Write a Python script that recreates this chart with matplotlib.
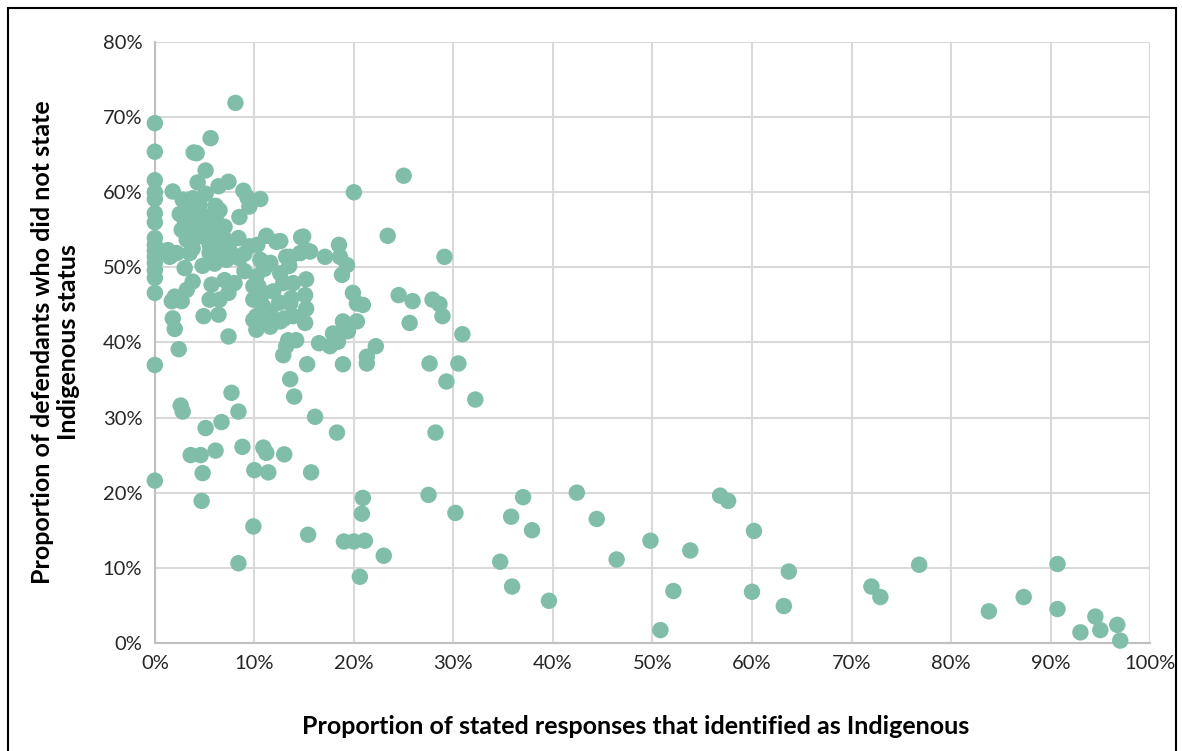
import matplotlib.pyplot as plt
from matplotlib.patches import Rectangle
from matplotlib.ticker import PercentFormatter

plt.rcParams['font.family'] = ['Lato', 'DejaVu Sans']

# proportion identified as Indigenous (%), proportion not stated (%)
x_pct = [
    0, 0, 0, 0, 0, 0, 0, 0, 0, 0, 0, 0, 0, 0, 0, 0, 0,
    8.1, 5.6, 4.2, 3.9, 5.1, 4.3, 6.4, 7.4, 1.8, 5.1, 8.9, 9.3, 10.6, 9.5, 2.8, 3.8, 6.1,
    2.5, 3.5, 4.5, 5.5, 8.5, 7.0, 6.2, 2.7, 3.8, 5.0, 4.4, 3.2, 8.4, 3.8, 5.5, 6.5, 1.3,
    2.2, 7.5, 9.5, 11.2, 12.2, 14.9, 10.3, 8.0, 9.0,
    1.5, 3.5, 5.5, 7.2, 8.5, 10.6, 11.6, 13.2, 14.6, 15.6, 17.1, 18.6, 19.3, 18.8, 15.2,
    13.6, 18.5, 14.7, 12.6,
    3.0, 3.8, 3.2, 5.7, 7.0, 8.0, 9.9, 10.2, 10.4, 12.6, 12.9, 13.9, 15.2, 4.8, 6.0, 9.0,
    11.0, 13.5,
    2.0, 1.7, 2.7, 5.5, 6.5, 7.4, 9.9, 10.9, 10.9, 15.1, 13.7, 13.6, 15.2, 19.9, 20.3,
    20.9, 11.9, 12.5,
    1.8, 2.0, 4.9, 6.4, 9.9, 10.2, 11.6, 12.6, 13.9, 15.1, 11.6, 10.2, 18.9, 20.3, 19.4,
    17.9, 11.0, 13.0,
    7.4, 2.4, 18.4, 17.6, 16.5, 13.4, 14.2, 13.2, 12.9, 22.2, 21.3, 21.3, 18.9, 15.3,
    20.0, 25.0, 23.4, 29.1, 24.5, 25.9, 27.9, 28.6, 28.9, 25.6, 30.9, 27.6, 30.5, 29.3,
    32.2, 28.2,
    13.6, 14.0, 7.7, 2.6, 2.8, 8.4, 5.1, 6.7, 16.1, 18.3, 8.8, 3.6, 4.6, 6.1, 10.9, 11.2,
    13.0, 4.8, 10.0, 11.4, 15.7, 4.7, 9.9, 15.4, 8.4,
    20.9, 20.8, 27.5, 30.2, 19.0, 20.0, 21.1, 23.0, 20.6, 37.0, 35.8, 34.7, 35.9, 37.9,
    39.6, 42.4, 44.4, 46.4, 49.8, 50.8, 52.1, 53.8, 56.8, 57.6, 60.2, 60.0, 63.7, 63.2,
    72.0, 72.9, 76.8, 83.8, 87.3, 90.7, 90.7, 93.0, 94.5, 95.0, 96.7, 97.0,
    # extra points in the crowded core
    4.0, 5.0, 6.0, 7.0, 4.5, 6.5, 3.0, 5.8,
]
y_pct = [
    69.2, 65.4, 61.6, 60.0, 59.1, 57.2, 56.0, 53.9, 53.0, 52.2, 51.4, 50.6, 49.6, 48.6, 46.6, 37.0, 21.6,
    71.9, 67.2, 65.2, 65.3, 62.9, 61.3, 60.8, 61.4, 60.1, 59.8, 60.2, 59.3, 59.1, 58.1, 59.0, 59.2, 58.2,
    57.1, 57.2, 57.4, 56.8, 56.7, 55.4, 56.1, 55.0, 55.4, 54.8, 54.1, 53.7, 53.9, 52.5, 53.0, 52.8, 52.3,
    51.9, 52.3, 52.8, 54.2, 53.4, 54.1, 53.0, 51.5, 51.8,
    51.4, 51.9, 51.9, 51.0, 51.2, 51.0, 50.6, 51.4, 51.9, 52.1, 51.4, 51.4, 50.3, 49.0, 52.3,
    51.4, 53.0, 54.0, 53.5,
    49.9, 48.1, 47.0, 47.7, 48.3, 47.9, 47.5, 48.8, 47.5, 49.2, 47.9, 47.9, 48.4, 50.2, 50.5, 49.5,
    49.8, 50.2,
    46.1, 45.5, 45.5, 45.7, 45.7, 46.6, 45.7, 46.6, 44.8, 46.3, 45.9, 45.2, 44.5, 46.6, 45.2,
    45.0, 46.8, 45.3,
    43.2, 41.8, 43.5, 43.7, 43.0, 43.5, 43.9, 42.8, 43.5, 42.6, 42.1, 41.7, 42.8, 42.8, 41.5,
    41.2, 42.5, 43.2,
    40.8, 39.1, 40.1, 39.5, 39.9, 40.3, 40.3, 39.5, 38.3, 39.5, 38.1, 37.2, 37.1, 37.1,
    60.0, 62.2, 54.2, 51.4, 46.3, 45.5, 45.7, 45.1, 43.5, 42.6, 41.1, 37.2, 37.2, 34.8,
    32.4, 28.0,
    35.1, 32.8, 33.3, 31.6, 30.8, 30.8, 28.6, 29.4, 30.1, 28.0, 26.1, 25.0, 25.0, 25.6, 26.0, 25.3,
    25.1, 22.6, 23.0, 22.7, 22.7, 18.9, 15.5, 14.4, 10.6,
    19.3, 17.2, 19.7, 17.3, 13.5, 13.5, 13.6, 11.6, 8.8, 19.4, 16.8, 10.8, 7.5, 15.0,
    5.6, 20.0, 16.5, 11.1, 13.6, 1.7, 6.9, 12.3, 19.6, 18.9, 14.9, 6.8, 9.5, 4.9,
    7.5, 6.1, 10.4, 4.2, 6.1, 10.5, 4.5, 1.4, 3.5, 1.7, 2.4, 0.3,
    56.0, 55.8, 54.5, 53.8, 58.3, 57.6, 56.3, 52.0,
]

fig = plt.figure(figsize=(11.82, 7.51), dpi=100)
ax = fig.add_axes([0.131, 0.144, 0.842, 0.800])

ax.scatter(x_pct, y_pct, s=140, color='#80bea9', edgecolors='none', zorder=3, clip_on=False)

ax.set_xlim(0, 100)
ax.set_ylim(0, 80)
ax.set_xticks(range(0, 101, 10))
ax.set_yticks(range(0, 81, 10))
ax.xaxis.set_major_formatter(PercentFormatter(decimals=0))
ax.yaxis.set_major_formatter(PercentFormatter(decimals=0))
ax.tick_params(length=0, labelsize=14.5, colors='#262626', pad=9)

ax.grid(True, color='#d9d9d9', linewidth=1.5, zorder=0)
for side in ['top', 'right']:
    ax.spines[side].set_visible(False)
for side in ['left', 'bottom']:
    ax.spines[side].set_color('#bfbfbf')
    ax.spines[side].set_linewidth(1.5)

ax.set_xlabel('Proportion of stated responses that identified as Indigenous',
              fontsize=18, fontweight='bold')
ax.set_ylabel('Proportion of defendants who did not state\nIndigenous status',
              fontsize=18, fontweight='bold', labelpad=16, linespacing=1.2)
ax.xaxis.set_label_coords(0.483, -0.12)

# black frame round the chart
fig.patches.append(Rectangle((8 / 1182, -0.05), 1168 / 1182, 1.05 - 8 / 751,
                             transform=fig.transFigure, fill=False,
                             edgecolor='black', linewidth=1.5))

fig.savefig('out.png', dpi=100)
